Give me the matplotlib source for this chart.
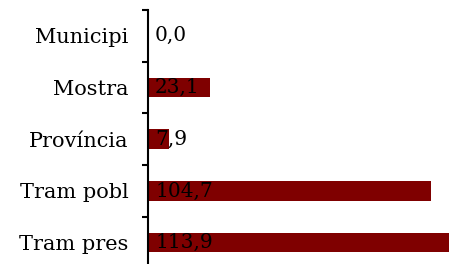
import numpy as np
import matplotlib.pyplot as plt

categorias = ["Municipi", "Mostra", "Província", "Tram pobl", "Tram pres"]
valores = [0.0, 23.1, 7.9, 104.7, 113.9]
etiquetas = ["0,0", "23,1", "7,9", "104,7", "113,9"]

plt.rcParams['font.family'] = ['DejaVu Serif']

fig = plt.figure(figsize=(4.49, 2.64), dpi=100)
# el eje va desde y=10 px hasta un poco por debajo del borde inferior
ax = fig.add_axes([148/449, -4.5/264, 1 - 148/449, 258.5/264])

y = np.arange(len(categorias))
ax.barh(y, valores, height=0.38, color="#7f0000", zorder=1)

for i, txt in enumerate(etiquetas):
    ax.text(2.6, y[i], txt, va="center", ha="left", fontsize=14.5, color="black", zorder=3)

ax.set_xlim(0, 111.5)
ax.set_ylim(len(categorias) - 0.5, -0.5)

# ticks mayores en los limites entre categorias, etiquetas en los centros
ax.set_yticks(np.arange(-0.5, len(categorias) + 0.5, 1.0))
ax.set_yticklabels([])
ax.set_yticks(y, minor=True)
ax.set_yticklabels(categorias, minor=True, fontsize=15)
ax.tick_params(axis="y", which="major", length=4.5, width=1.5, direction="out")
ax.tick_params(axis="y", which="minor", length=0, pad=14)
ax.set_xticks([])

for lado in ["top", "right", "bottom"]:
    ax.spines[lado].set_visible(False)
ax.spines["left"].set_linewidth(1.5)

fig.savefig("out.png", dpi=100)
